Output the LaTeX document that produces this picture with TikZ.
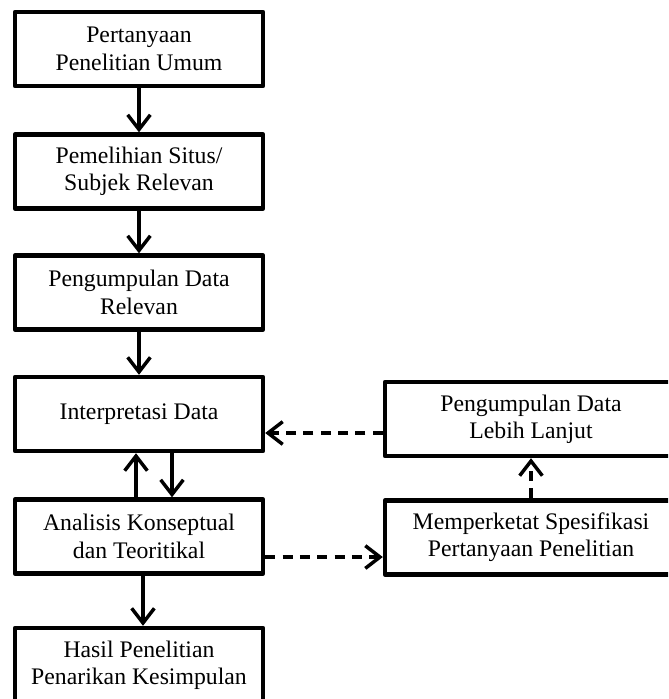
\documentclass[tikz,border=0pt]{standalone}
\usepackage{fontspec}
\setmainfont{Liberation Serif}
\usetikzlibrary{arrows.meta}
\begin{document}
\begin{tikzpicture}[x=0.75pt,y=-0.75pt,line join=round,>={Straight Barb[length=11pt,width=17pt]},
	font=\fontsize{17.8}{20.5}\selectfont,
	kotak/.style={draw,line width=3.3pt,align=center,minimum width=186pt,minimum height=55.5pt,inner sep=0pt},
	kanan/.style={kotak,minimum width=219pt},
	panah/.style={->,line width=2.6pt},
	putus/.style={->,line width=2.6pt,dash pattern=on 7.5pt off 5.5pt}]
	\useasboundingbox (0,0) rectangle (668,699);
	\clip (0,0) rectangle (668,699);
	\node[kotak] (tanya) at (139,49) {Pertanyaan\\Penelitian Umum};
	\node[kotak] (situs) at (139,171.5) {Pemelihian Situs/\\Subjek Relevan};
	\node[kotak] (kumpul) at (139,292.5) {Pengumpulan Data\\Relevan};
	\node[kotak] (tafsir) at (139,414) {Interpretasi Data};
	\node[kotak] (analisis) at (139,536.5) {Analisis Konseptual\\dan Teoritikal};
	\node[kotak] (hasil) at (139,665) {Hasil Penelitian\\Penarikan Kesimpulan};
	\node[kanan] (lanjut) at (531,419) {Pengumpulan Data\\Lebih Lanjut};
	\node[kanan] (ketat) at (531,537.5) {Memperketat Spesifikasi\\Pertanyaan Penelitian};
	\draw[panah] (tanya) -- (situs);
	\draw[panah] (situs) -- (kumpul);
	\draw[panah] (kumpul) -- (tafsir);
	\draw[panah] ([xshift=-2.25pt]analisis.north) -- ([xshift=-2.25pt]tafsir.south);
	\draw[panah] ([xshift=24.75pt]tafsir.south) -- ([xshift=24.75pt]analisis.north);
	\draw[panah] ([xshift=3pt]analisis.south) -- ([xshift=3pt]hasil.north);
	\draw[putus] ([yshift=-10.5pt]lanjut.west) -- ([yshift=-10.5pt]lanjut.west -| tafsir.east);
	\draw[putus] ([yshift=-15.4pt]analisis.east) -- ([yshift=-15.4pt]analisis.east -| ketat.west);
	\draw[putus] (ketat) -- (lanjut);
\end{tikzpicture}
\end{document}
